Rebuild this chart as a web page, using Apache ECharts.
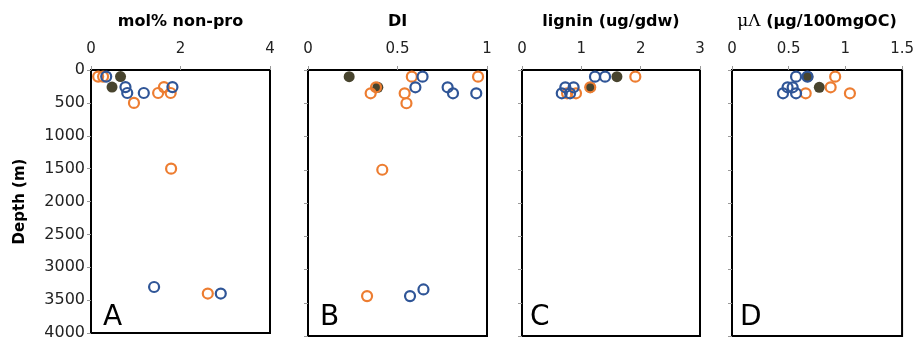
<!DOCTYPE html>
<html>
<head>
<meta charset="utf-8">
<script src="https://cdn.jsdelivr.net/npm/echarts@6/dist/echarts.min.js"></script>
<style>
  html, body { margin: 0; padding: 0; background: #fff; }
  #chart { width: 917px; height: 341px; }
</style>
</head>
<body>
<div id="chart"></div>
<script>
// depth profiles, [value, depth m]
const panelTitles = ['mol% non-pro', 'DI', 'lignin (ug/gdw)', '{s|\u03bc\u039b} (\u03bcg/100mgOC)']
const panelLetters = ['A', 'B', 'C', 'D']
const xMax = [4, 1, 3, 1.5]
const xStep = [2, 0.5, 1, 0.5]

const blueA = [[0.34, 100], [0.77, 260], [0.81, 350], [1.18, 350], [1.82, 260], [1.41, 3300], [2.9, 3400]]
const orangeA = [[0.16, 100], [0.27, 100], [1.63, 260], [1.5, 350], [1.78, 350], [0.96, 500], [1.79, 1500], [2.61, 3400]]
const darkA = [[0.66, 100], [0.47, 260]]

const blueB = [[0.64, 100], [0.6, 260], [0.78, 260], [0.81, 350], [0.94, 350], [0.645, 3300], [0.57, 3400]]
const orangeB = [[0.58, 100], [0.95, 100], [0.38, 260], [0.35, 350], [0.54, 350], [0.55, 500], [0.415, 1500], [0.33, 3400]]
const darkB = [[0.23, 100], [0.39, 260]]

const blueC = [[1.23, 100], [1.4, 100], [0.73, 260], [0.87, 260], [0.67, 350], [0.81, 350]]
const orangeC = [[1.91, 100], [1.15, 260], [0.76, 350], [0.91, 350]]
const darkC = [[1.6, 100], [1.15, 260]]

const blueD = [[0.565, 100], [0.665, 100], [0.49, 260], [0.535, 260], [0.45, 350], [0.565, 350]]
const orangeD = [[0.91, 100], [0.87, 260], [0.65, 350], [1.04, 350]]
const darkD = [[0.67, 100], [0.77, 260]]

const blue = [blueA, blueB, blueC, blueD]
const orange = [orangeA, orangeB, orangeC, orangeD]
const dark = [darkA, darkB, darkC, darkD]

const grids = [
  { left: 91, top: 70, width: 179, height: 266 },
  { left: 308, top: 70, width: 179, height: 266 },
  { left: 522, top: 70, width: 178, height: 266 },
  { left: 732, top: 70, width: 172, height: 266 }
]

const font = 'DejaVu Sans'
const tickStyle = { show: true, length: 4, inside: false, lineStyle: { color: '#999', width: 1 } }
const frame = { show: true, onZero: false, lineStyle: { color: '#000', width: 2 } }

const chart = echarts.init(document.getElementById('chart'))

const option = {
  backgroundColor: '#fff',
  animation: false,
  grid: grids.map(g => ({ ...g, show: true, borderColor: '#000', borderWidth: 2, backgroundColor: 'transparent' })),
  xAxis: grids.map((g, i) => ({
    gridIndex: i,
    type: 'value',
    position: 'top',
    min: 0,
    max: xMax[i],
    interval: xStep[i],
    name: panelTitles[i],
    nameLocation: 'middle',
    nameGap: 40,
    nameTextStyle: {
      fontFamily: font, fontWeight: 'bold', fontSize: 16, color: '#000',
      rich: { s: { fontFamily: 'DejaVu Serif', fontWeight: 'normal', fontSize: 17, color: '#000' } }
    },
    axisLine: frame,
    axisTick: tickStyle,
    axisLabel: { fontFamily: font, fontSize: 15, color: '#222', margin: 13 },
    splitLine: { show: false }
  })),
  yAxis: grids.map((g, i) => ({
    gridIndex: i,
    type: 'value',
    inverse: true,
    min: 0,
    max: 4000,
    interval: 500,
    name: i === 0 ? 'Depth (m)' : '',
    nameLocation: 'middle',
    nameRotate: 90,
    nameGap: 63,
    nameTextStyle: { fontFamily: font, fontWeight: 'bold', fontSize: 15, color: '#000' },
    axisLine: frame,
    axisTick: tickStyle,
    axisLabel: { show: i === 0, fontFamily: font, fontSize: 16, color: '#222', margin: 6, formatter: v => String(v) },
    splitLine: { show: false }
  })),
  series: [],
  graphic: grids.map((g, i) => ({
    type: 'text',
    left: g.left + (i === 0 || i === 1 ? 12 : 8),
    top: 304,
    style: { text: panelLetters[i], font: '28px "DejaVu Sans"', fill: '#000' }
  }))
}

for (let i = 0; i < 4; i++) {
  option.series.push({
    type: 'scatter', xAxisIndex: i, yAxisIndex: i, data: dark[i],
    symbol: 'circle', symbolSize: 11,
    itemStyle: { color: '#48442e', opacity: 1 }
  })
  option.series.push({
    type: 'scatter', xAxisIndex: i, yAxisIndex: i, data: orange[i],
    symbol: 'circle', symbolSize: 10,
    itemStyle: { color: 'transparent', borderColor: '#ED7D31', borderWidth: 2.2, opacity: 1 }
  })
  option.series.push({
    type: 'scatter', xAxisIndex: i, yAxisIndex: i, data: blue[i],
    symbol: 'circle', symbolSize: 10,
    itemStyle: { color: 'transparent', borderColor: '#2F5597', borderWidth: 2.2, opacity: 1 }
  })
}

chart.setOption(option)
</script>
</body>
</html>
